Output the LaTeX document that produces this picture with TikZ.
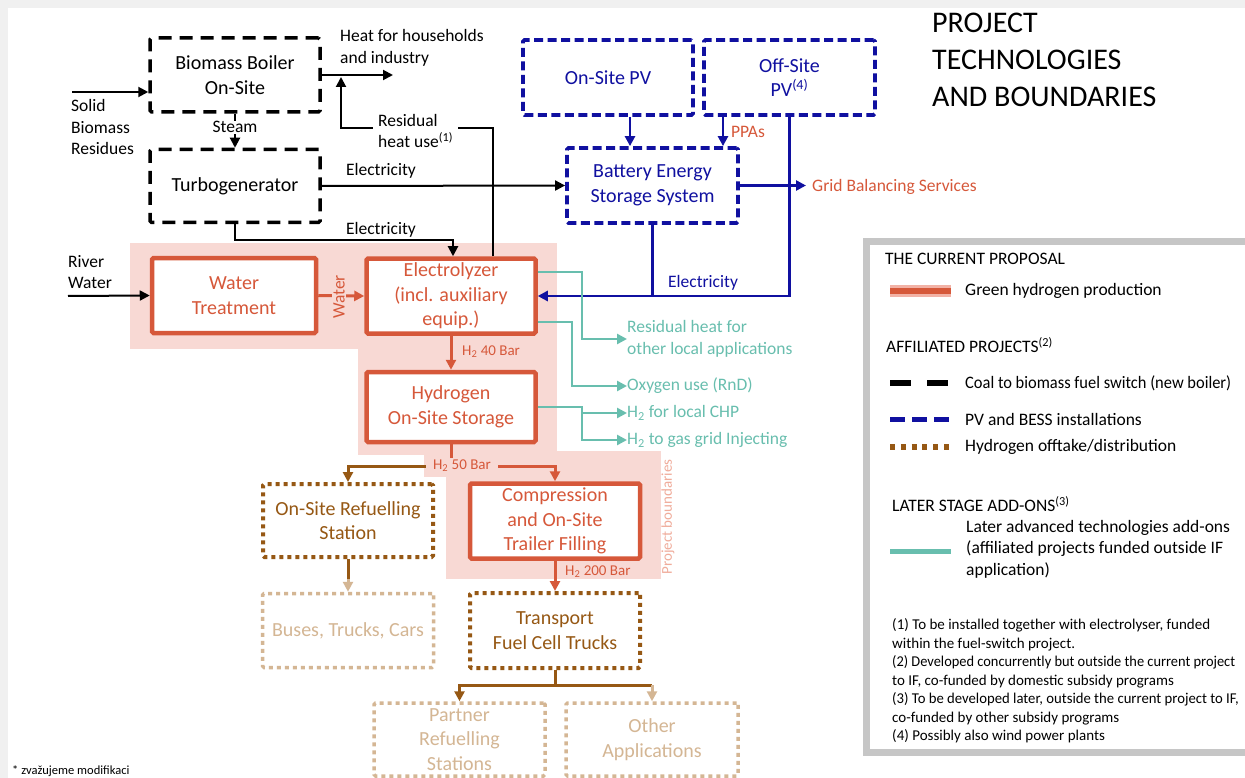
\documentclass[tikz,border=0pt]{standalone}
\usepackage{fontspec}
\setmainfont{Carlito}
\usetikzlibrary{arrows.meta}
\definecolor{orgc}{RGB}{214,88,58}
\definecolor{pinkbg}{RGB}{248,217,212}
\definecolor{pinkhalo}{RGB}{242,178,166}
\definecolor{bluec}{RGB}{16,16,160}
\definecolor{tealc}{RGB}{104,190,174}
\definecolor{brnc}{RGB}{150,88,20}
\definecolor{tanc}{RGB}{212,182,148}
\definecolor{pbtext}{RGB}{240,172,155}
\definecolor{legframe}{RGB}{198,198,198}
\definecolor{pagegray}{RGB}{240,240,240}
\newcommand{\bxfont}{\fontsize{20}{24.5}\selectfont}
\newcommand{\lbfont}{\fontsize{17.5}{21.5}\selectfont}
\newcommand{\smfont}{\fontsize{15}{18.5}\selectfont}
\newcommand{\ttlfont}{\fontsize{30}{37}\selectfont}
\tikzset{
  box/.style={minimum width=170pt, minimum height=74pt, inner sep=0pt, align=center, font=\bxfont, fill=white, rounded corners=1.5pt},
  blkbox/.style={box, draw=black, line width=3.5pt, dash pattern=on 13pt off 8pt},
  blubox/.style={box, draw=bluec, text=bluec, line width=3.8pt, dash pattern=on 9pt off 4.5pt},
  orgbox/.style={box, draw=orgc, text=orgc, line width=4.5pt},
  brnbox/.style={box, draw=brnc, text=brnc, line width=4pt, dash pattern=on 4pt off 4pt},
  tanbox/.style={box, draw=tanc, text=tanc, line width=3.5pt, dash pattern=on 4pt off 4pt},
  lab/.style={font=\lbfont, inner sep=0pt},
  sm/.style={font=\smfont, inner sep=0pt},
  blkline/.style={draw=black, line width=2pt},
  bline/.style={draw=bluec, line width=2.5pt},
  orgline/.style={draw=orgc, line width=3pt},
  tline/.style={draw=tealc, line width=2.5pt},
  brnline/.style={draw=brnc, line width=3pt},
  tanline/.style={draw=tanc, line width=3pt},
}
\begin{document}
\begin{tikzpicture}[x=1pt,y=-1pt,>={Triangle[length=10pt,width=10pt]}]
\useasboundingbox (0,0) rectangle (1245,778);
\fill[pagegray] (0,0) rectangle (1245,778);
\fill[white] (8,8) rectangle (1245,778);

% project boundary background
\fill[pinkbg] (130,243) rectangle (557,349);
\fill[pinkbg] (358,243) rectangle (557,455);
\fill[pinkbg] (424,451) rectangle (557,477);
\fill[pinkbg] (446,451) rectangle (661,579);
\node[rotate=90, text=pbtext, sm] (pb) at (668,517) {Project boundaries};

% boxes
\node[blkbox] (boiler) at (235,75) {Biomass Boiler\\On-Site};
\node[blkbox, minimum height=73pt] (turbo) at (235,186) {Turbogenerator};
\node[blubox, minimum height=75pt] (onpv) at (608,77.5) {On-Site PV};
\node[blubox, minimum width=171pt, minimum height=75pt] (offpv) at (789.5,77.5) {Off-Site\\PV\textsuperscript{(4)}};
\node[blubox, minimum width=171pt, minimum height=75pt] (bess) at (652.5,185.5) {Battery Energy\\Storage System};
\node[orgbox, minimum width=164pt, minimum height=75pt] (wt) at (234,295.5) {Water\\Treatment};
\node[orgbox, minimum width=169pt, minimum height=75pt] (elec) at (451,296) {Electrolyzer\\(incl. auxiliary\\equip.)};
\node[orgbox, minimum width=169pt, minimum height=70pt] (stor) at (451,407) {Hydrogen\\On-Site Storage};
\node[orgbox, minimum width=170pt, minimum height=75pt] (comp) at (555,521) {Compression\\and On-Site\\Trailer Filling};
\node[brnbox, minimum width=170pt, minimum height=73pt] (refuel) at (348,520.5) {On-Site Refuelling\\Station};
\node[brnbox, minimum width=170pt, minimum height=75pt] (trans) at (555,630.5) {Transport\\Fuel Cell Trucks};
\node[tanbox, minimum width=171pt, minimum height=74pt] (buses) at (348,630.5) {Buses, Trucks, Cars};
\node[tanbox, minimum width=171pt, minimum height=73pt] (partner) at (459.5,739.5) {Partner\\Refuelling\\Stations};
\node[tanbox, minimum width=172pt, minimum height=73pt] (other) at (652,739.5) {Other\\Applications};

% black connectors
\coordinate (sbin) at (72,92);
\draw[blkline,->] (sbin) -- (boiler.west |- sbin);
\node[lab, anchor=west, align=left] (solid) at (71,127) {Solid\\Biomass\\Residues};
\draw[blkline,->] (boiler.south) -- (turbo.north) node[lab, pos=0.4, fill=white, inner sep=1pt] (steam) {Steam};
\coordinate (heatout) at (393,75);
\draw[blkline,->] (boiler.east) -- (heatout);
\node[lab, anchor=west, align=left] (heat) at (340,48) {Heat for households\\and industry};
\coordinate (rj) at (493,128);
\coordinate (rtop) at (341,77);
\draw[blkline,->] (elec.north -| rj) -- (rj) -- (rj -| rtop) -- (rtop);
\node[lab, anchor=west, align=left, fill=white, inner xsep=5pt, inner ysep=1pt] (resid) at (373,131) {Residual\\heat use\textsuperscript{(1)}};
\draw[blkline,->] (turbo.east) -- (bess.west);
\node[lab] (el1) at (381,171) {Electricity};
\draw[blkline,->] (turbo.south) -- ++(0,16) -| ([xshift=2pt]elec.north);
\node[lab] (el2) at (381,230) {Electricity};
\coordinate (rwin) at (68,296);
\draw[blkline,->] (rwin) -- (wt.west);
\node[lab, anchor=west, align=left] (river) at (68,272) {River\\Water};

% water
\draw[orgline,->] (wt.east) -- (elec.west);
\node[lab, text=orgc, fill=pinkbg, rotate=90, inner sep=1pt] (waterlab) at (339,297) {Water};

% blue connectors
\draw[bline,->] ([xshift=22pt]onpv.south) -- ([xshift=22pt]onpv.south |- bess.north);
\draw[bline,->] ([xshift=-66.5pt]offpv.south) -- ([xshift=-66.5pt]offpv.south |- bess.north);
\node[lab, text=orgc] (ppa) at (748,132) {PPAs};
\draw[bline,->] (offpv.south) |- (elec.east);
\draw[bline] (bess.south) -- (bess.south |- elec.east);
\node[lab, text=bluec] (el3) at (703,283) {Electricity};
\node[lab, text=orgc, anchor=west] (gbs) at (812,187) {Grid Balancing Services};
\draw[bline,->] (bess.east) -- ([xshift=-6pt]gbs.west |- bess.east);

% teal connectors
\node[lab, text=tealc, anchor=west, align=left] (resapp) at (627,339) {Residual heat for\\other local applications};
\node[lab, text=tealc, anchor=west] (oxy) at (627,386) {Oxygen use (RnD)};
\node[lab, text=tealc, anchor=west] (chp) at (627,413) {H\textsubscript{2} for local CHP};
\node[lab, text=tealc, anchor=west] (gridinj) at (627,440) {H\textsubscript{2} to gas grid Injecting};
\draw[tline,->] ([yshift=24pt]elec.east) -- (582,272) |- (resapp.west);
\draw[tline,->] ([yshift=-26pt]elec.east) -- (572,322) |- (oxy.west);
\coordinate (tj) at (582,407);
\draw[tline,->] (stor.east) -- (tj) |- (chp.west);
\draw[tline,->] (tj) |- (gridinj.west);

% orange / brown connectors
\draw[orgline,->] (elec.south) -- (stor.north);
\node[sm, text=orgc, anchor=west] (h40) at (462,352) {H\textsubscript{2} 40 Bar};
\node[sm, text=orgc, fill=pinkbg, inner xsep=7pt, inner ysep=2pt] (h50) at (462,466) {H\textsubscript{2} 50 Bar};
\draw[orgline] (stor.south) -- (stor.south |- h50.north);
\draw[brnline,->] (h50.west) -| (refuel.north);
\draw[orgline,->] (h50.east) -| (comp.north);
\draw[orgline,->] (comp.south) -- (trans.north);
\node[sm, text=orgc, anchor=west] (h200) at (565,572) {H\textsubscript{2} 200 Bar};
\draw[brnline] (refuel.south) -- ++(0,20) coordinate (rb);
\draw[tanline,->] (rb) -- (buses.north);
\draw[brnline] (trans.south) -- ++(0,15) coordinate (tb);
\draw[brnline,->] (tb) -| (partner.north);
\draw[brnline] (tb) -- (tb -| other.north);
\draw[tanline,->] (tb -| other.north) -- (other.north);

% title
\node[anchor=west, align=left, font=\ttlfont, inner sep=0pt] (title) at (932,60) {PROJECT\\TECHNOLOGIES\\AND BOUNDARIES};

% legend
\draw[legframe, line width=7pt] (866.5,241.5) rectangle (1275,752);
\node[lab, anchor=west] (lg1) at (885,259) {THE CURRENT PROPOSAL};
\draw[pinkhalo, line width=12pt] (890,291) -- (951,291);
\draw[orgc, line width=5.5pt] (890,291) -- (951,291);
\node[lab, anchor=west] (lg2) at (965,291) {Green hydrogen production};
\node[lab, anchor=west] (lg3) at (886,345) {AFFILIATED PROJECTS\textsuperscript{(2)}};
\draw[black, line width=5.5pt, dash pattern=on 21pt off 16pt] (890,383) -- (951,383);
\node[lab, anchor=west] (lg4) at (965,383) {\scalebox{0.94}[1]{Coal to biomass fuel switch (new boiler)}};
\draw[bluec, line width=5pt, dash pattern=on 15pt off 7pt] (890,419) -- (949,419);
\node[lab, anchor=west] (lg5) at (965,419) {PV and BESS installations};
\draw[brnc, line width=5.5pt, dash pattern=on 5pt off 5.8pt] (890,447) -- (951,447);
\node[lab, anchor=west] (lg6) at (965,447) {Hydrogen offtake/distribution};
\node[lab, anchor=west] (lg7) at (892,504) {LATER STAGE ADD-ONS\textsuperscript{(3)}};
\draw[tealc, line width=5pt] (890,551) -- (951,551);
\node[lab, anchor=west, align=left] (lg8) at (966,549) {Later advanced technologies add-ons\\(affiliated projects funded outside IF\\application)};
\node[sm, anchor=west, align=left] (notes) at (892,681) {(1) To be installed together with electrolyser, funded\\within the fuel-switch project.\\\scalebox{0.96}[1]{(2) Developed concurrently but outside the current project}\\to IF, co-funded by domestic subsidy programs\\\scalebox{0.98}[1]{(3) To be developed later, outside the current project to IF,}\\co-funded by other subsidy programs\\(4) Possibly also wind power plants};

\node[anchor=west, font=\fontsize{12.5}{15}\selectfont, inner sep=0pt] (zv) at (12,771) {* zvažujeme modifikaci};
\end{tikzpicture}
\end{document}
